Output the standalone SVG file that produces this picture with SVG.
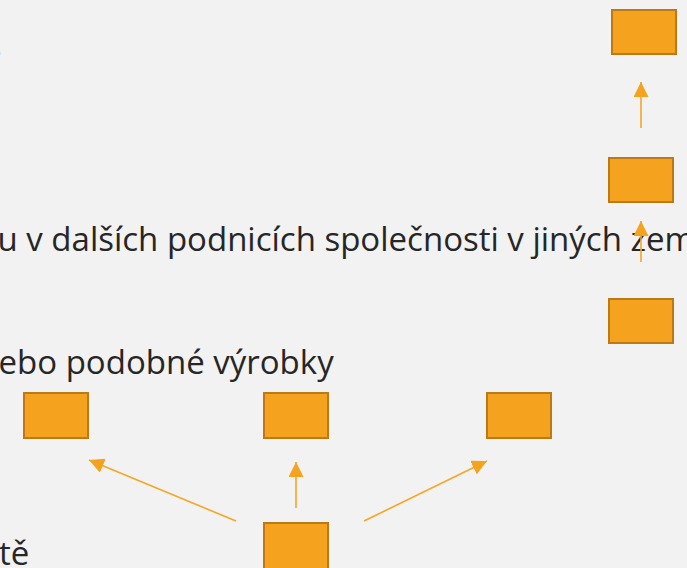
<svg xmlns="http://www.w3.org/2000/svg" width="687" height="568" viewBox="0 0 687 568">
  <style>
    .bg { fill: #F2F2F2; }
    .box { fill: #F5A31F; stroke: #BC7914; stroke-width: 2; }
    .conn { stroke: #F5A623; stroke-width: 1.6; fill: none; marker-end: url(#ah); }
    .txt { font-family: "Open Sans", "Noto Sans", sans-serif; font-size: 33px; fill: #262626; }
  </style>
  <defs>
    <marker id="ah" markerUnits="userSpaceOnUse" markerWidth="15" markerHeight="15" viewBox="0 0 15 15" refX="15" refY="7.5" orient="auto">
      <path d="M0,0 L15,7.5 L0,15 z" fill="#F5A31F"/>
    </marker>
  </defs>
  <rect class="bg" x="0" y="0" width="687" height="568"/>

  <g id="texts">
    <text class="txt" x="-17" y="64">e</text>
    <text class="txt" x="-2.5" y="251">u v dalších podnicích společnosti v jiných zem</text>
    <text class="txt" x="-1.5" y="374">ebo podobné výrobky</text>
    <text class="txt" x="-1" y="565">tě</text>
  </g>

  <g id="connectors">
    <line class="conn" x1="641" y1="128" x2="641" y2="82"/>
    <line class="conn" x1="641" y1="262" x2="641" y2="221"/>
    <line class="conn" x1="236" y1="521" x2="89" y2="460"/>
    <line class="conn" x1="296" y1="508" x2="296" y2="462"/>
    <line class="conn" x1="364" y1="521" x2="487" y2="461"/>
  </g>

  <g id="node-r1"><rect class="box" x="612" y="10" width="64" height="44"/></g>
  <g id="node-r2"><rect class="box" x="609" y="158" width="64" height="44"/></g>
  <g id="node-r3"><rect class="box" x="609" y="299" width="64" height="44"/></g>
  <g id="node-a"><rect class="box" x="24" y="393" width="64" height="45"/></g>
  <g id="node-b"><rect class="box" x="264" y="393" width="64" height="45"/></g>
  <g id="node-c"><rect class="box" x="487" y="393" width="64" height="45"/></g>
  <g id="node-root"><rect class="box" x="264" y="523" width="64" height="48"/></g>
</svg>
